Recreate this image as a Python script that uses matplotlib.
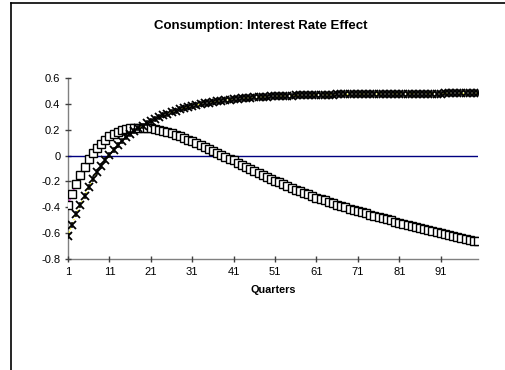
import matplotlib
matplotlib.use("Agg")
import matplotlib.pyplot as plt
from matplotlib.lines import Line2D

plt.rcParams['font.family'] = ['Liberation Sans', 'DejaVu Sans']

quarters = list(range(1, 101))

series_square = [
    -0.385, -0.295, -0.217, -0.148, -0.085, -0.028, 0.018, 0.058, 0.092, 0.122,
    0.148, 0.168, 0.184, 0.196, 0.205, 0.211, 0.215, 0.217, 0.217, 0.215,
    0.212, 0.207, 0.200, 0.192, 0.183, 0.173, 0.162, 0.150, 0.137, 0.124,
    0.110, 0.096, 0.082, 0.067, 0.052, 0.037, 0.022, 0.007, -0.008, -0.023,
    -0.038, -0.054, -0.070, -0.086, -0.102, -0.118, -0.134, -0.149, -0.164, -0.179,
    -0.194, -0.208, -0.222, -0.236, -0.250, -0.263, -0.276, -0.289, -0.301, -0.313,
    -0.325, -0.336, -0.347, -0.358, -0.369, -0.380, -0.390, -0.400, -0.410, -0.420,
    -0.430, -0.439, -0.448, -0.457, -0.466, -0.475, -0.484, -0.493, -0.502, -0.511,
    -0.520, -0.528, -0.536, -0.544, -0.552, -0.560, -0.568, -0.576, -0.584, -0.592,
    -0.600, -0.607, -0.614, -0.621, -0.628, -0.636, -0.643, -0.650, -0.657, -0.664,
]

series_star = [
    -0.620, -0.535, -0.450, -0.380, -0.310, -0.245, -0.185, -0.130, -0.080, -0.035,
    0.008, 0.046, 0.081, 0.112, 0.140, 0.166, 0.190, 0.212, 0.232, 0.250,
    0.267, 0.283, 0.298, 0.312, 0.325, 0.337, 0.348, 0.358, 0.367, 0.375,
    0.383, 0.390, 0.397, 0.403, 0.409, 0.414, 0.419, 0.424, 0.428, 0.432,
    0.436, 0.439, 0.442, 0.445, 0.448, 0.450, 0.452, 0.454, 0.456, 0.458,
    0.460, 0.461, 0.462, 0.463, 0.464, 0.465, 0.466, 0.467, 0.468, 0.469,
    0.470, 0.471, 0.471, 0.472, 0.472, 0.473, 0.473, 0.474, 0.474, 0.475,
    0.475, 0.476, 0.476, 0.476, 0.477, 0.477, 0.477, 0.478, 0.478, 0.478,
    0.479, 0.479, 0.479, 0.479, 0.479, 0.480, 0.480, 0.480, 0.480, 0.480,
    0.480, 0.481, 0.481, 0.481, 0.481, 0.481, 0.482, 0.482, 0.482, 0.482,
]

zero_line = [0.0] * 100

x_ticks = [1, 11, 21, 31, 41, 51, 61, 71, 81, 91]
y_ticks = [-0.8, -0.6, -0.4, -0.2, 0, 0.2, 0.4, 0.6]
y_tick_labels = ['-0.8', '-0.6', '-0.4', '-0.2', '0', '0.2', '0.4', '0.6']

fig = plt.figure(figsize=(5.05, 3.70), dpi=100)
ax = fig.add_axes([68 / 505, 1 - 259 / 370, (478 - 68) / 505, (259 - 78) / 370])

ax.plot(quarters, zero_line, color='#000080', lw=1.0, zorder=2)
ax.plot(quarters, series_square, color='#FF00FF', lw=0.8, zorder=3,
        marker='s', markersize=5.2, markerfacecolor='white',
        markeredgecolor='black', markeredgewidth=1.0)
ax.plot(quarters, series_star, color='#FFFF00', lw=0.9, ls=':', zorder=4,
        marker='x', markersize=5.5, markeredgecolor='black', markeredgewidth=1.3)
ax.plot(quarters, series_star, ls='none', zorder=4,
        marker='|', markersize=4.5, markeredgecolor='black', markeredgewidth=1.1)

ax.set_xlim(1, 100)
ax.set_ylim(-0.8, 0.6)
ax.set_xticks(x_ticks)
ax.set_xticklabels([str(t) for t in x_ticks])
ax.set_yticks(y_ticks)
ax.set_yticklabels(y_tick_labels)

for s in ['top', 'right']:
    ax.spines[s].set_visible(False)
for s in ['left', 'bottom']:
    ax.spines[s].set_color('#808080')
    ax.spines[s].set_linewidth(1.0)
    ax.spines[s].set_zorder(1)

ax.tick_params(axis='both', direction='inout', length=5, width=1.0,
               color='#404040', labelsize=8, pad=3)

ax.set_xlabel('Quarters', fontsize=7.8, fontweight='bold', labelpad=6)
fig.text(261 / 505, 1 - 26 / 370, 'Consumption: Interest Rate Effect',
         ha='center', va='center', fontsize=9.5, fontweight='bold')

fig.add_artist(Line2D([10.5 / 505, 10.5 / 505], [0, 1 - 2.5 / 370],
                      transform=fig.transFigure, color='black', lw=1.2))
fig.add_artist(Line2D([10.5 / 505, 1], [1 - 2.5 / 370, 1 - 2.5 / 370],
                      transform=fig.transFigure, color='black', lw=1.2))

fig.savefig('out.png', dpi=100)
